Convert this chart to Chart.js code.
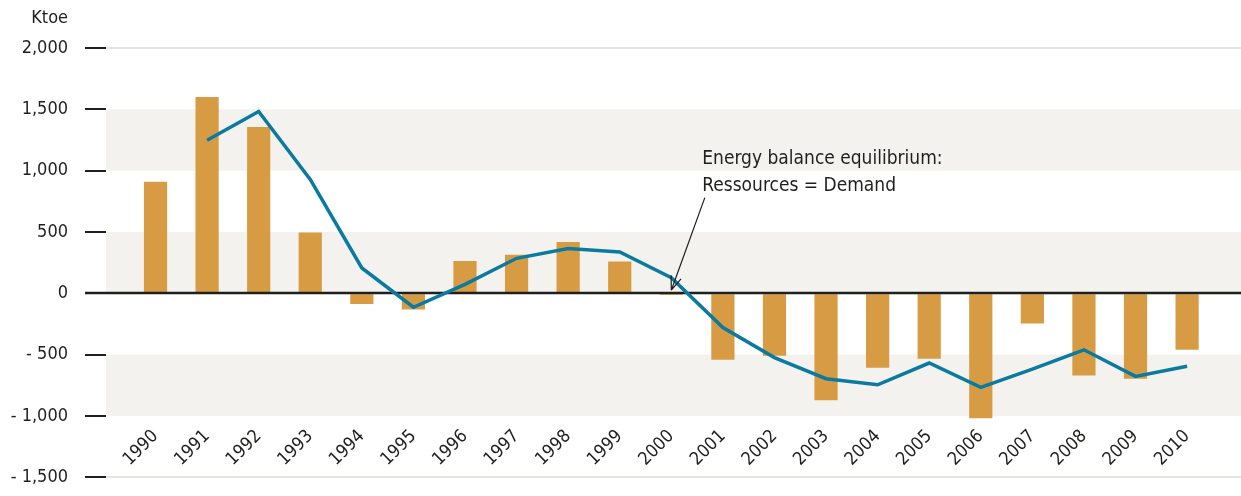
<!DOCTYPE html>
<html>
<head>
<meta charset="utf-8">
<script src="https://cdn.jsdelivr.net/npm/chart.js@4.4.0/dist/chart.umd.min.js"></script>
<style>
  html, body { margin: 0; padding: 0; background: #fff; overflow: hidden; }
  #wrap { width: 1241px; height: 505px; position: relative; }
</style>
</head>
<body>
<div id="wrap"><canvas id="balance"></canvas></div>
<script>
// --- data ---
const years = [1990, 1991, 1992, 1993, 1994, 1995, 1996, 1997, 1998, 1999, 2000,
               2001, 2002, 2003, 2004, 2005, 2006, 2007, 2008, 2009, 2010];
const balanceBars = [910, 1600, 1355, 495, -88, -133, 263, 314, 417, 258, -15,
                     -542, -510, -873, -607, -534, -1019, -247, -670, -697, -461];
const trendLine = [null, 1247, 1483, 928, 206, -114, 73, 285, 364, 336, 127,
                   -280, -525, -697, -746, -569, -767, -618, -461, -678, -595];
const yTicks = [-1500, -1000, -500, 0, 500, 1000, 1500, 2000];
const shadedBands = [[1000, 1500], [0, 500], [-1000, -500]];
const unitLabel = 'Ktoe';
const noteLines = ['Energy balance equilibrium:', 'Ressources = Demand'];
const noteAnchor = { year: 2000.6, values: [1057, 835] };
const noteArrow = { from: [2000.65, 780], to: [2000.0, 25] };

const FONT = "'DejaVu Sans Condensed', 'DejaVu Sans', sans-serif";
const INK  = '#1f1f1d';
const BAR  = '#d79c43';
const LINE = '#0a7aa0';
const BAND = '#f3f2ef';

Chart.defaults.font.family = FONT;
Chart.defaults.color = INK;

const fmt = v => v < 0 ? '- ' + Math.abs(v).toLocaleString('en-US') : v.toLocaleString('en-US');

const decor = {
  id: 'decor',
  beforeDraw(chart) {
    const { ctx, chartArea: a, scales: { y } } = chart;
    ctx.save();
    ctx.fillStyle = BAND;
    shadedBands.forEach(([lo, hi]) => {
      const top = y.getPixelForValue(hi), bot = y.getPixelForValue(lo);
      ctx.fillRect(a.left, top, a.right - a.left, bot - top);
    });
    ctx.restore();
  },
  beforeDatasetDraw(chart, args) {
    // zero line sits over the bars but under the line
    if (args.meta.type !== 'line') return;
    const { ctx, chartArea: a, scales: { y } } = chart;
    const y0 = Math.round(y.getPixelForValue(0));
    ctx.save();
    ctx.strokeStyle = INK;
    ctx.lineWidth = 2.5;
    ctx.beginPath();
    ctx.moveTo(a.left, y0);
    ctx.lineTo(a.right, y0);
    ctx.stroke();
    ctx.restore();
  },
  afterDraw(chart) {
    const { ctx, scales: { x, y } } = chart;
    ctx.save();
    ctx.fillStyle = INK;
    ctx.font = '18px ' + FONT;
    ctx.textAlign = 'right';
    ctx.textBaseline = 'middle';
    ctx.fillText(unitLabel, 68, 18);

    ctx.font = '19px ' + FONT;
    ctx.textAlign = 'left';
    ctx.textBaseline = 'alphabetic';
    noteLines.forEach((t, i) => {
      ctx.fillText(t, x.getPixelForValue(noteAnchor.year), y.getPixelForValue(noteAnchor.values[i]));
    });

    const x1 = x.getPixelForValue(noteArrow.from[0]), y1 = y.getPixelForValue(noteArrow.from[1]);
    const x2 = x.getPixelForValue(noteArrow.to[0]),   y2 = y.getPixelForValue(noteArrow.to[1]);
    const ang = Math.atan2(y1 - y2, x1 - x2);
    ctx.strokeStyle = INK;
    ctx.lineWidth = 1.2;
    ctx.beginPath();
    ctx.moveTo(x1, y1);
    ctx.lineTo(x2, y2);
    [-0.36, 0.36].forEach(d => {
      ctx.moveTo(x2, y2);
      ctx.lineTo(x2 + 15 * Math.cos(ang + d), y2 + 15 * Math.sin(ang + d));
    });
    ctx.stroke();
    ctx.restore();
  }
};

new Chart(document.getElementById('balance'), {
  type: 'bar',
  data: {
    labels: years,
    datasets: [
      {
        type: 'line',
        data: trendLine,
        borderColor: LINE,
        borderWidth: 3.5,
        pointRadius: 0,
        tension: 0,
        fill: false,
        order: 0
      },
      {
        type: 'bar',
        data: balanceBars,
        backgroundColor: BAR,
        barPercentage: 0.9,
        categoryPercentage: 0.5,
        order: 1
      }
    ]
  },
  options: {
    responsive: true,
    maintainAspectRatio: false,
    animation: false,
    layout: { padding: { left: 0, right: 0, top: 48, bottom: 10 } },
    plugins: { legend: { display: false }, tooltip: { enabled: false } },
    scales: {
      x: {
        type: 'linear',
        offset: false,
        min: 1989.04,
        max: 2011.045,
        position: { y: -1000 },
        grid: { display: false, drawTicks: false, offset: false },
        border: { display: false },
        afterBuildTicks: s => { s.ticks = years.map(v => ({ value: v })); },
        ticks: {
          autoSkip: false,
          minRotation: 45,
          maxRotation: 45,
          padding: 10,
          color: INK,
          font: { size: 18 },
          callback: v => String(v)
        }
      },
      y: {
        min: -1500,
        max: 2000,
        afterBuildTicks: s => { s.ticks = yTicks.map(v => ({ value: v })); },
        afterFit: s => { s.width = 106; },
        border: { display: false },
        grid: {
          color: c => (c.tick && (c.tick.value === 2000 || c.tick.value === -1500)) ? '#e7e4e0' : 'rgba(0,0,0,0)',
          lineWidth: 2,
          tickColor: INK,
          tickWidth: c => (c.tick && c.tick.value === 0) ? 2.5 : 2,
          tickLength: 21
        },
        ticks: {
          padding: 17,
          color: INK,
          font: { size: 18 },
          callback: v => fmt(v)
        }
      }
    }
  },
  plugins: [decor]
});
</script>
</body>
</html>
